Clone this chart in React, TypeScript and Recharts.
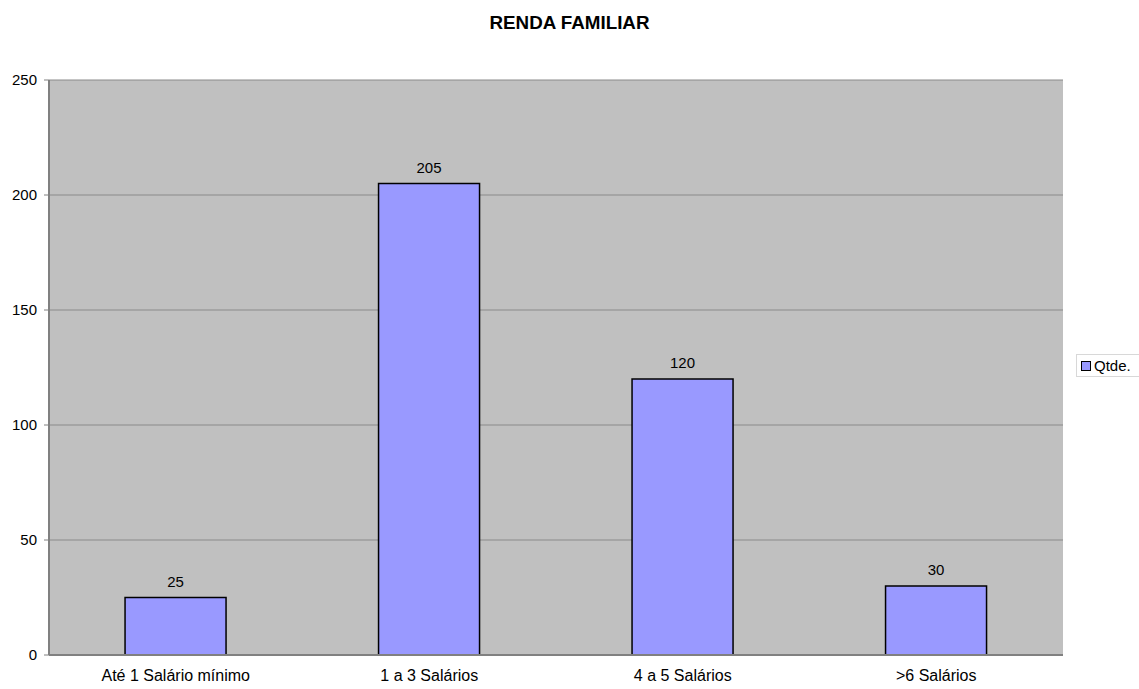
import React from "react";
import {
  BarChart,
  Bar,
  XAxis,
  YAxis,
  CartesianGrid,
  LabelList,
} from "recharts";

const categories = ["Até 1 Salário mínimo", "1 a 3 Salários", "4 a 5 Salários", ">6 Salários"];
const qtde = [25, 205, 120, 30];
const yTicks = [0, 50, 100, 150, 200, 250];
const seriesName = "Qtde.";

const data = categories.map((c, i) => ({ name: c, qtde: qtde[i] }));

const FONT = "'Liberation Sans', Arial, sans-serif";

export default function App() {
  return (
    <div style={{ position: "absolute", left: 0, top: 0, width: 1139, height: 689, background: "#fff", overflow: "hidden" }}>
      <div
        style={{
          position: "absolute",
          left: 0,
          top: 12,
          width: 1139,
          textAlign: "center",
          fontFamily: FONT,
          fontWeight: "bold",
          fontSize: 18.8,
          color: "#000",
        }}
      >
        RENDA FAMILIAR
      </div>
      <BarChart
        width={1139}
        height={689}
        data={data}
        margin={{ top: 80, right: 76, bottom: 0, left: 0 }}
        barCategoryGap="30%"
      >
        <CartesianGrid
          horizontal={true}
          vertical={false}
          fill="#c0c0c0"
          fillOpacity={1}
          stroke="#8a8a8a"
          strokeWidth={1}
        />
        <XAxis
          dataKey="name"
          height={34}
          axisLine={{ stroke: "#808080", strokeWidth: 2 }}
          tickLine={false}
          tickMargin={9}
          tick={{ fontFamily: FONT, fontSize: 16, fill: "#000" }}
          interval={0}
        />
        <XAxis xAxisId="top" orientation="top" dataKey="name" height={0} tick={false} tickLine={false} axisLine={{ stroke: "#808080", strokeWidth: 2 }} />
        <YAxis
          width={49}
          domain={[0, 250]}
          ticks={yTicks}
          interval={0}
          axisLine={{ stroke: "#808080", strokeWidth: 2 }}
          tickLine={{ stroke: "#808080" }}
          tickSize={5}
          tickMargin={7}
          tick={{ fontFamily: FONT, fontSize: 15, fill: "#000" }}
        />
        <YAxis yAxisId="right" orientation="right" width={0} domain={[0, 250]} tick={false} tickLine={false} axisLine={{ stroke: "#808080", strokeWidth: 2 }} />
        <Bar dataKey="qtde" name={seriesName} fill="#9999ff" stroke="#000" strokeWidth={1.5} isAnimationActive={false}>
          <LabelList
            dataKey="qtde"
            position="top"
            offset={11}
            style={{ fontFamily: FONT, fontSize: 15, fill: "#000" }}
          />
        </Bar>
      </BarChart>
      <div
        style={{
          position: "absolute",
          left: 1076,
          top: 354,
          width: 80,
          height: 23,
          boxSizing: "border-box",
          border: "1px solid #d8d8d8",
          background: "#fff",
          paddingLeft: 4,
          display: "flex",
          alignItems: "center",
          fontFamily: FONT,
          fontSize: 15,
          color: "#000",
        }}
      >
        <span
          style={{
            display: "inline-block",
            width: 8,
            height: 8,
            background: "#9999ff",
            border: "1px solid #000",
            marginRight: 3,
          }}
        />
        {seriesName}
      </div>
    </div>
  );
}
